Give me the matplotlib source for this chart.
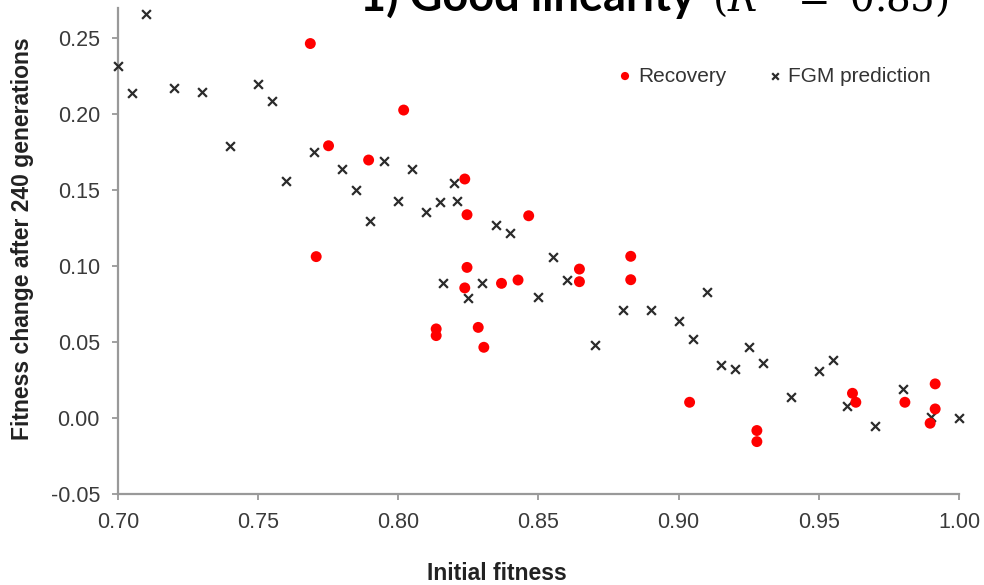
import matplotlib
matplotlib.use("Agg")
import matplotlib.pyplot as plt

# ---------------- data ----------------
fgm_x = [0.700, 0.705, 0.710, 0.720, 0.730, 0.740, 0.750, 0.755, 0.760, 0.770,
         0.780, 0.785, 0.790, 0.795, 0.800, 0.805, 0.810, 0.815, 0.820, 0.821,
         0.835, 0.840, 0.855, 0.816, 0.830, 0.825, 0.850, 0.860, 0.870, 0.880,
         0.890, 0.900, 0.905, 0.910, 0.915, 0.920, 0.925, 0.930, 0.940, 0.950,
         0.955, 0.960, 0.970, 0.980, 0.990, 1.000]
fgm_y = [0.232, 0.214, 0.266, 0.217, 0.215, 0.179, 0.220, 0.209, 0.156, 0.175,
         0.164, 0.150, 0.130, 0.169, 0.143, 0.164, 0.136, 0.142, 0.155, 0.143,
         0.127, 0.122, 0.106, 0.089, 0.089, 0.079, 0.080, 0.091, 0.048, 0.071,
         0.071, 0.064, 0.052, 0.083, 0.035, 0.032, 0.047, 0.036, 0.014, 0.031,
         0.038, 0.008, -0.005, 0.019, 0.001, 0.000]

rec_x = [0.7686, 0.7751, 0.7894, 0.7707, 0.8019, 0.8237, 0.8245, 0.8465, 0.8245,
         0.8237, 0.8368, 0.8427, 0.8646, 0.8646, 0.8829, 0.8829, 0.8135, 0.8135,
         0.8285, 0.8305, 0.9039, 0.9279, 0.9279, 0.9620, 0.9632, 0.9807, 0.9915,
         0.9915, 0.9897]
rec_y = [0.2466, 0.1793, 0.1699, 0.1063, 0.2028, 0.1574, 0.1339, 0.1332, 0.0992,
         0.0857, 0.0887, 0.0909, 0.0981, 0.0898, 0.1065, 0.0911, 0.0587, 0.0543,
         0.0597, 0.0466, 0.0104, -0.0082, -0.0155, 0.0163, 0.0104, 0.0104, 0.0225,
         0.0060, -0.0034]

xticks = [0.70, 0.75, 0.80, 0.85, 0.90, 0.95, 1.00]
yticks = [-0.05, 0.00, 0.05, 0.10, 0.15, 0.20, 0.25]
xtick_labels = ["0.70", "0.75", "0.80", "0.85", "0.90", "0.95", "1.00"]
ytick_labels = ["-0.05", "0.00", "0.05", "0.10", "0.15", "0.20", "0.25"]

series_labels = ["Recovery", "FGM prediction"]
x_title = "Initial fitness"
y_title = "Fitness change after 240 generations"
title_bold = "1) Good linearity"
title_math = r"$(R^2\ =\ 0.85)$"

# ---------------- figure ----------------
W, H = 984, 585
fig = plt.figure(figsize=(W / 100, H / 100), dpi=100)
ax = fig.add_axes([118 / W, 1 - 494 / H, (959 - 118) / W, (494 - 8) / H])

spine_c = "#999999"
tick_c = "#3a3a3a"
tfont = "Liberation Sans"

ax.scatter(fgm_x, fgm_y, marker="x", s=40, linewidths=1.6, color="#2b2b2b",
           label=series_labels[1], zorder=3, clip_on=False)
ax.scatter(rec_x, rec_y, marker="o", s=62, color="#ff0000", edgecolors="none",
           label=series_labels[0], zorder=4, clip_on=False)

ax.set_xlim(0.70, 1.00)
ax.set_ylim(-0.05, 0.27)
ax.set_xticks(xticks)
ax.set_xticklabels(xtick_labels)
ax.set_yticks(yticks)
ax.set_yticklabels(ytick_labels)

for s in ["top", "right"]:
    ax.spines[s].set_visible(False)
for s in ["left", "bottom"]:
    ax.spines[s].set_color(spine_c)
    ax.spines[s].set_linewidth(1.6)

ax.tick_params(axis="both", direction="out", length=4, width=1.3, color=spine_c,
               labelcolor=tick_c, labelsize=15.5)
ax.tick_params(axis="y", pad=9)
ax.tick_params(axis="x", pad=9)
for lab in ax.get_xticklabels() + ax.get_yticklabels():
    lab.set_family(tfont)

# legend
handles, labels = ax.get_legend_handles_labels()
order = [1, 0]
leg = fig.legend([handles[i] for i in order], [labels[i] for i in order],
                 ncol=2, frameon=False, loc="center left",
                 bbox_to_anchor=(600 / W, 1 - 76 / H),
                 handlelength=0.6, handletextpad=0.35, columnspacing=2.0,
                 markerscale=0.75, prop={"family": tfont, "size": 15})
for t in leg.get_texts():
    t.set_color("#333333")

# axis titles
fig.text(497 / W, 1 - 580 / H, x_title, ha="center", va="baseline",
         fontsize=16.5, fontweight="bold", family=tfont, color="#222222")
fig.text(23 / W, 1 - 239 / H, y_title, ha="center", va="center", rotation=90,
         fontsize=16.5, fontweight="bold", family=tfont, color="#222222")

# chart title (cut off at top, as in the reference)
fig.text(360 / W, 1 - 11 / H, title_bold, ha="left", va="baseline",
         fontsize=32.5, fontweight="bold", family="Lato", color="black")
plt.rcParams["mathtext.fontset"] = "dejavuserif"
fig.text(712 / W, 1 - 11 / H, title_math, ha="left", va="baseline",
         fontsize=28, color="black")

fig.savefig("out.png", dpi=100)
